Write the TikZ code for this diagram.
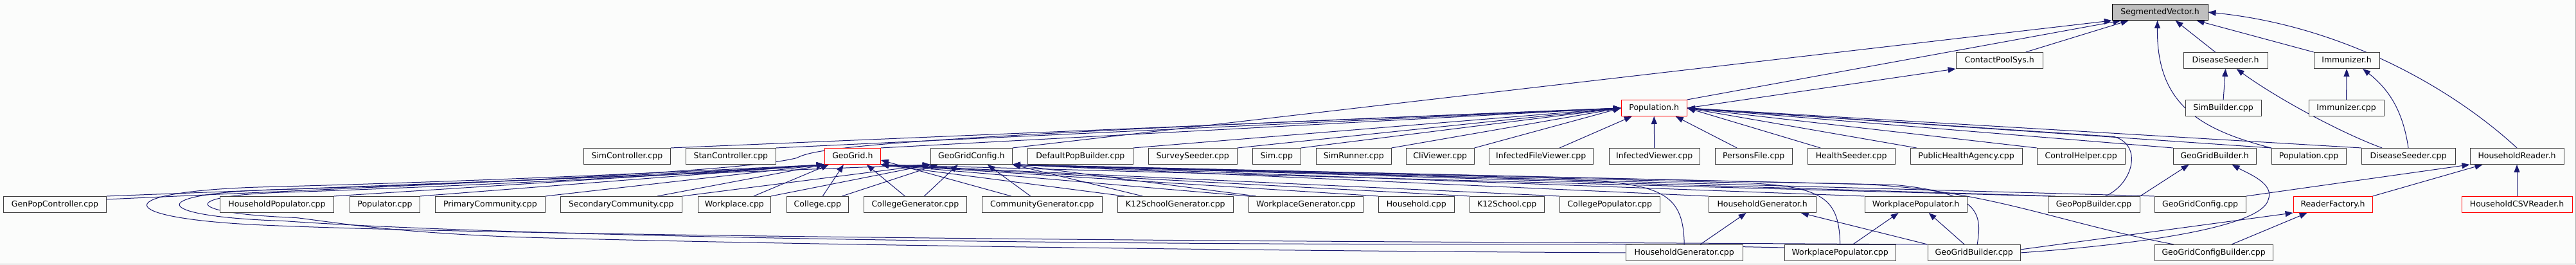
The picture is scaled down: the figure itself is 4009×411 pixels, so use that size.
\documentclass[tikz,border=0pt]{standalone}
\usepackage{fontspec}
\setmainfont{DejaVu Sans}
\usetikzlibrary{arrows.meta}

\definecolor{edgeblue}{RGB}{25,25,112}
\definecolor{boxgray}{RGB}{64,64,64}
\definecolor{rootfill}{RGB}{191,191,191}
\definecolor{paper}{RGB}{251,252,251}
\definecolor{framegray}{RGB}{176,176,176}

\pgfdeclarelayer{bg}
\pgfdeclarelayer{edges}
\pgfsetlayers{bg,edges,main}

\begin{document}
\begin{tikzpicture}[x=1pt, y=1pt,
  every node/.style={font=\fontsize{12.5}{15}\selectfont},
  file/.style={draw=boxgray, line width=1pt, fill=paper, minimum height=25pt,
    inner sep=0pt, text height=9.5pt, text depth=3pt},
  trunc/.style={file, draw=red},
  root/.style={file, draw=black, fill=rootfill},
  dep/.style={draw=edgeblue, line width=1pt, -{Triangle[length=12pt, width=9pt]}}]

  % page
  \begin{pgfonlayer}{bg}
    \fill[paper] (0,0) rectangle (4009,-411);
    \draw[framegray, line width=1pt] (0,-410.5) -- (4008.5,-410.5) -- (4008.5,0);
  \end{pgfonlayer}
  \useasboundingbox (0,0) rectangle (4009,-411);

  % rank 0
  \node[root, minimum width=149pt] (sv) at (3361.5,-18.5) {SegmentedVector.h};

  % rank 1
  \node[file, minimum width=135pt] (cps) at (3111.5,-93.5) {ContactPoolSys.h};
  \node[file, minimum width=131pt] (dsh) at (3463.5,-93.5) {DiseaseSeeder.h};
  \node[file, minimum width=102pt] (imh) at (3652,-93.5) {Immunizer.h};

  % rank 2
  \node[trunc, minimum width=102pt] (poph) at (2574,-167.5) {Population.h};
  \node[file, minimum width=118pt] (simb) at (3460,-167.5) {SimBuilder.cpp};
  \node[file, minimum width=117pt] (imcpp) at (3651.5,-167.5) {Immunizer.cpp};

  % rank 3
  \node[file, minimum width=135pt] (simctrl) at (975.5,-242.5) {SimController.cpp};
  \node[file, minimum width=140pt] (stanctrl) at (1137,-242.5) {StanController.cpp};
  \node[trunc, minimum width=87pt] (geogrid) at (1326.5,-242.5) {GeoGrid.h};
  \node[file, minimum width=127pt] (ggch) at (1511.5,-242.5) {GeoGridConfig.h};
  \node[file, minimum width=164pt] (defpop) at (1681,-242.5) {DefaultPopBuilder.cpp};
  \node[file, minimum width=138pt] (survey) at (1856,-242.5) {SurveySeeder.cpp};
  \node[file, minimum width=75pt] (sim) at (1986.5,-242.5) {Sim.cpp};
  \node[file, minimum width=117pt] (simrunner) at (2106.5,-242.5) {SimRunner.cpp};
  \node[file, minimum width=106pt] (cliviewer) at (2241,-242.5) {CliViewer.cpp};
  \node[file, minimum width=162pt] (inffile) at (2398,-242.5) {InfectedFileViewer.cpp};
  \node[file, minimum width=141pt] (infview) at (2574.5,-242.5) {InfectedViewer.cpp};
  \node[file, minimum width=120pt] (persons) at (2729,-242.5) {PersonsFile.cpp};
  \node[file, minimum width=136pt] (health) at (2881,-242.5) {HealthSeeder.cpp};
  \node[file, minimum width=174pt] (pha) at (3060,-242.5) {PublicHealthAgency.cpp};
  \node[file, minimum width=137pt] (ctrlhelp) at (3238.5,-242.5) {ControlHelper.cpp};
  \node[file, minimum width=129pt] (ggbh) at (3446.5,-242.5) {GeoGridBuilder.h};
  \node[file, minimum width=116pt] (popcpp) at (3593,-242.5) {Population.cpp};
  \node[file, minimum width=146pt] (dscpp) at (3748,-242.5) {DiseaseSeeder.cpp};
  \node[file, minimum width=146pt] (hhreader) at (3917,-242.5) {HouseholdReader.h};

  % rank 4
  \node[file, minimum width=160pt] (genpop) at (85,-317.5) {GenPopController.cpp};
  \node[file, minimum width=177pt] (hhpop) at (430.5,-317.5) {HouseholdPopulator.cpp};
  \node[file, minimum width=109pt] (populator) at (598.5,-317.5) {Populator.cpp};
  \node[file, minimum width=171pt] (primcomm) at (762.5,-317.5) {PrimaryCommunity.cpp};
  \node[file, minimum width=189pt] (seccomm) at (966.5,-317.5) {SecondaryCommunity.cpp};
  \node[file, minimum width=113pt] (workplace) at (1142.5,-317.5) {Workplace.cpp};
  \node[file, minimum width=96pt] (college) at (1272,-317.5) {College.cpp};
  \node[file, minimum width=160pt] (collgen) at (1424,-317.5) {CollegeGenerator.cpp};
  \node[file, minimum width=187pt] (commgen) at (1621.5,-317.5) {CommunityGenerator.cpp};
  \node[file, minimum width=180pt] (k12gen) at (1829,-317.5) {K12SchoolGenerator.cpp};
  \node[file, minimum width=178pt] (wpgen) at (2032,-317.5) {WorkplaceGenerator.cpp};
  \node[file, minimum width=118pt] (household) at (2204,-317.5) {Household.cpp};
  \node[file, minimum width=116pt] (k12school) at (2345,-317.5) {K12School.cpp};
  \node[file, minimum width=156pt] (collpop) at (2505,-317.5) {CollegePopulator.cpp};
  \node[file, minimum width=167pt] (hhgenh) at (2742.5,-317.5) {HouseholdGenerator.h};
  \node[file, minimum width=159pt] (wppoph) at (2981.5,-317.5) {WorkplacePopulator.h};
  \node[file, minimum width=143pt] (geopop) at (3258.5,-317.5) {GeoPopBuilder.cpp};
  \node[file, minimum width=142pt] (ggccpp) at (3424,-317.5) {GeoGridConfig.cpp};
  \node[trunc, minimum width=123pt] (readerf) at (3630.5,-317.5) {ReaderFactory.h};
  \node[trunc, minimum width=172pt] (hhcsv) at (3917,-317.5) {HouseholdCSVReader.h};

  % rank 5
  \node[file, minimum width=182pt] (hhgencpp) at (2621,-392.5) {HouseholdGenerator.cpp};
  \node[file, minimum width=173pt] (wppopcpp) at (2863.5,-392.5) {WorkplacePopulator.cpp};
  \node[file, minimum width=144pt] (ggbcpp) at (3072,-392.5) {GeoGridBuilder.cpp};
  \node[file, minimum width=184pt] (ggcbcpp) at (3445,-392.5) {GeoGridConfigBuilder.cpp};

  \begin{pgfonlayer}{edges}
  % to SegmentedVector.h
  \draw[dep] (ggch.north east) -- (sv.south west);
  \draw[dep] (poph.north east) -- ([xshift=14pt]sv.south west);
  \draw[dep] ([xshift=-27pt]cps.north east) -- ([xshift=26pt]sv.south west);
  \draw[dep] ([xshift=-16pt]dsh.north) -- ([xshift=24pt]sv.south);
  \draw[dep] (imh.north west) -- ([xshift=-18pt]sv.south east);
  \draw[dep] (popcpp.north west) .. controls (3420,-200) and (3356,-160) .. ([xshift=-4pt]sv.south);
  \draw[dep] (hhreader.north) .. controls (3820,-140) and (3650,-40) .. (sv.east);

  % ranks 1 and 2
  \draw[dep] (poph.east) -- (cps.south west);
  \draw[dep] (simb.north) -- (dsh.south);
  \draw[dep] ([xshift=-41pt]dscpp.north) .. controls (3640,-205) and (3540,-150) .. ([xshift=17pt]dsh.south);
  \draw[dep] (imcpp.north) -- (imh.south);
  \draw[dep] (dscpp.north) .. controls (3740,-175) and (3720,-140) .. ([xshift=25pt]imh.south);

  % to Population.h
  \draw[dep] (simctrl.north east) -- (poph.west);
  \draw[dep] (stanctrl.north east) -- (poph.west);
  \draw[dep] (geogrid.north east) -- (poph.west);
  \draw[dep] (defpop.north east) -- (poph.west);
  \draw[dep] (survey.north east) -- (poph.west);
  \draw[dep] (sim.north east) -- (poph.west);
  \draw[dep] (simrunner.north east) -- (poph.west);
  \draw[dep] (cliviewer.north east) -- (poph.west);
  \draw[dep] ([yshift=8pt]genpop.east) .. controls (700,-285) and (1150,-268) .. (1240,-245)
    .. controls (1270,-228) and (1400,-212) .. (poph.west);
  \draw[dep] ([xshift=29pt]inffile.north) -- ([xshift=17pt]poph.south west);
  \draw[dep] (infview.north) -- (poph.south);
  \draw[dep] ([xshift=-26pt]persons.north) -- ([xshift=-18pt]poph.south east);
  \draw[dep] ([xshift=-48pt]health.north) -- (poph.east);
  \draw[dep] ([xshift=10pt]pha.north west) -- (poph.east);
  \draw[dep] (ctrlhelp.north west) -- (poph.east);
  \draw[dep] (ggbh.north west) -- (poph.east);
  \draw[dep] (popcpp.north west) -- (poph.east);
  \draw[dep] (dscpp.north west) -- (poph.east);
  \draw[dep] ([xshift=18pt]geopop.north) .. controls (3320,-285) and (3335,-225) .. (3290,-212) -- (poph.east);

  % to GeoGrid.h
  \draw[dep] (hhpop.north east) -- (geogrid.south west);
  \draw[dep] (populator.north east) -- (geogrid.south west);
  \draw[dep] (primcomm.north east) -- (geogrid.south west);
  \draw[dep] ([xshift=56pt]seccomm.north) -- (geogrid.south west);
  \draw[dep] ([xshift=30pt]workplace.north) -- ([xshift=7pt]geogrid.south west);
  \draw[dep] ([xshift=8pt]college.north) -- ([xshift=-14pt]geogrid.south);
  \draw[dep] ([xshift=-16pt]collgen.north) -- ([xshift=22pt]geogrid.south);
  \draw[dep] ([xshift=-48pt]commgen.north) -- ([yshift=-6pt]geogrid.east);
  \draw[dep] ([xshift=-79pt]k12gen.north) -- (geogrid.south east);
  \draw[dep] (wpgen.north west) -- (geogrid.south east);
  \draw[dep] (household.north west) -- (geogrid.south east);
  \draw[dep] (k12school.north west) -- (geogrid.south east);
  \draw[dep] (collpop.north west) -- (geogrid.south east);
  \draw[dep] (geopop.north west) -- (geogrid.south east);
  \draw[dep] (ggbcpp.north west) -- (2500,-377) .. controls (1500,-373) and (700,-362) .. (420,-350)
    .. controls (164,-340) and (164,-296) .. (420,-290) .. controls (800,-280) and (1150,-262) .. (geogrid.south west);
  \draw[dep] ([yshift=8pt]wppopcpp.west) -- (2500,-379) .. controls (1600,-382) and (750,-365) .. (440,-343)
    .. controls (225,-336) and (225,-299) .. (440,-294) .. controls (800,-283) and (1150,-264) .. (geogrid.south west);
  \draw[dep] (hhgencpp.west) .. controls (2000,-390) and (1200,-380) .. (800,-368)
    .. controls (600,-360) and (520,-345) .. (460,-338)
    .. controls (277,-331) and (277,-302) .. (460,-298) .. controls (800,-286) and (1150,-266) .. (geogrid.south west);

  % to GeoGridConfig.h
  \draw[dep] (genpop.north east) -- (ggch.south west);
  \draw[dep] (seccomm.north east) -- (ggch.south west);
  \draw[dep] (workplace.north east) -- (ggch.south west);
  \draw[dep] ([xshift=38pt]college.north) -- ([xshift=12pt]ggch.south west);
  \draw[dep] ([xshift=14pt]collgen.north) -- ([xshift=-21pt]ggch.south);
  \draw[dep] ([xshift=-18pt]commgen.north) -- ([xshift=25pt]ggch.south);
  \draw[dep] ([xshift=-51pt]k12gen.north) -- (ggch.south east);
  \draw[dep] ([xshift=12pt]wpgen.north west) -- (ggch.south east);
  \draw[dep] (hhgenh.north west) -- (ggch.south east);
  \draw[dep] (wppoph.north west) -- (ggch.south east);
  \draw[dep] ([xshift=12pt]geopop.north west) -- (ggch.south east);
  \draw[dep] (ggccpp.north west) -- (ggch.south east);
  \draw[dep] (hhgencpp.north) .. controls (2620,-305) and (2590,-287) .. (2470,-280) -- (ggch.south east);
  \draw[dep] (wppopcpp.north) .. controls (2862,-310) and (2840,-290) .. (2720,-284) -- (ggch.south east);
  \draw[dep] ([xshift=5pt]ggbcpp.north) .. controls (3085,-330) and (3080,-300) .. (2950,-287) -- (ggch.south east);
  \draw[dep] ([xshift=-62pt]ggcbcpp.north) .. controls (3200,-345) and (3100,-296) .. (2900,-286) -- (ggch.south east);

  % generators, populators, builders
  \draw[dep] ([xshift=25pt]hhgencpp.north) -- ([xshift=-25pt]hhgenh.south);
  \draw[dep] ([xshift=20pt]wppopcpp.north) -- ([xshift=-27pt]wppoph.south);
  \draw[dep] ([xshift=-15pt]ggbcpp.north) -- ([xshift=20pt]wppoph.south);
  \draw[dep] (ggbcpp.north west) -- ([xshift=60pt]hhgenh.south);
  \draw[dep] (ggbcpp.east) .. controls (3350,-378) and (3520,-350) .. (3530,-310)
    .. controls (3540,-285) and (3500,-270) .. ([xshift=-38pt]ggbh.south east);
  \draw[dep] ([yshift=5pt]ggbcpp.east) -- (readerf.south west);
  \draw[dep] ([xshift=28pt]ggcbcpp.north) -- ([xshift=-40pt]readerf.south);
  \draw[dep] (geopop.north east) -- ([xshift=-40pt]ggbh.south);

  % readers
  \draw[dep] (readerf.north east) -- ([xshift=20pt]hhreader.south west);
  \draw[dep] (ggccpp.north east) -- (hhreader.south west);
  \draw[dep] (hhcsv.north) -- (hhreader.south);
  \end{pgfonlayer}
\end{tikzpicture}
\end{document}
